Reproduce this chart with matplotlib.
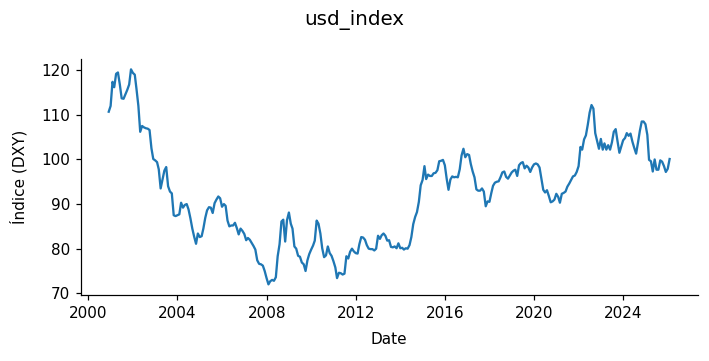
# usd index, monthly closes, line chart
import matplotlib
matplotlib.use("Agg")
import matplotlib.pyplot as plt
import pandas as pd

# month-end values (Nov 2000 .. Jan 2026)
values = [
    110.7, 112.0, 117.4, 116.2, 119.2, 119.5, 116.8, 113.7, 113.6, 114.6, 115.6, 116.8,
    120.2, 119.4, 119.0, 115.8, 112.0, 106.2, 107.5, 107.2, 107.0, 106.9, 106.6, 102.5,
    100.1, 99.8, 99.4, 97.8, 93.5, 95.5, 97.5, 98.3, 94.0, 92.8, 92.4, 87.5,
    87.3, 87.5, 87.7, 90.3, 89.2, 89.8, 90.0, 88.8, 86.8, 84.5, 82.7, 81.1,
    83.4, 82.6, 82.8, 84.5, 86.9, 88.6, 89.3, 89.2, 88.0, 90.2, 91.0, 91.7,
    91.3, 89.4, 90.0, 89.6, 86.3, 85.0, 85.2, 85.2, 85.8, 84.6, 83.2,
    84.5, 84.0, 83.3, 81.9, 82.4, 82.0, 81.3, 80.6, 79.8, 77.4, 76.6, 76.5,
    76.2, 75.0, 73.4, 72.0, 72.7, 73.0, 72.8, 73.6, 78.3, 81.0, 86.1, 86.5,
    81.6, 86.4, 88.1, 85.6, 84.5, 80.5, 80.0, 78.4, 78.2, 76.9, 76.5, 75.0,
    77.4, 78.8, 79.8, 80.7, 81.8, 86.3, 85.6, 83.4, 80.1, 78.1, 78.5, 80.5,
    79.0, 78.4, 77.2, 75.8, 73.4, 74.6, 74.5, 74.2, 74.4, 78.3, 77.8, 79.3,
    80.0, 79.4, 79.0, 78.9, 81.0, 82.6, 82.5, 82.0, 80.8, 80.0, 79.9, 79.9,
    79.6, 80.0, 82.9, 82.2, 83.0, 83.4, 82.9, 81.8, 81.9, 80.4, 80.3, 80.5,
    80.1, 81.2, 80.1, 80.2, 79.8, 80.1, 80.0, 80.8, 82.6, 85.5, 87.1, 88.2,
    90.5, 94.2, 95.4, 98.5, 95.6, 96.6, 96.3, 96.3, 96.9, 97.0, 97.6, 99.6,
    99.7, 99.9, 98.7, 95.6, 93.2, 95.5, 96.2, 96.0, 96.1, 96.0, 97.8, 100.9,
    102.4, 100.5, 101.2, 101.0, 99.0, 97.3, 96.0, 93.3, 93.0, 93.0, 93.5, 92.8,
    89.5, 90.6, 90.5, 92.5, 94.1, 94.8, 95.0, 95.1, 96.0, 97.1, 97.3,
    96.1, 95.7, 96.4, 97.1, 97.5, 97.7, 96.3, 98.7, 99.2, 99.4, 98.0, 98.6,
    98.2, 97.2, 98.2, 98.9, 99.1, 98.9, 98.2, 95.8, 93.2, 92.6, 93.1, 91.8,
    90.4, 90.6, 91.0, 92.3, 91.6, 90.3, 92.3, 92.5, 92.8, 93.9, 94.6, 95.4,
    96.2, 96.4, 97.2, 98.5, 102.8, 102.2, 104.5, 105.4, 107.8, 110.5, 112.2, 111.4,
    105.9, 104.1, 102.4, 104.6, 102.2, 103.6, 102.2, 103.2, 102.2, 103.8, 106.2, 106.8,
    104.1, 101.5, 102.9, 104.3, 104.8, 105.9, 105.3, 105.8, 104.0, 102.6, 101.3, 103.8,
    106.4, 108.5, 108.5, 107.9, 105.5, 99.9, 99.6, 97.3, 100.0, 97.7, 97.7, 99.8,
    99.5, 98.5, 97.2, 97.9, 100.1,
]
dates = pd.date_range("2000-11-30", periods=len(values), freq="ME")

fig = plt.figure(figsize=(709 / 110, 361 / 110), dpi=110)
ax = fig.add_axes([0.1138, 0.1825, 0.8702, 0.6552])
ax.plot(dates, values, color="#1f77b4", lw=1.5)

ax.set_xlabel("Date", fontsize=10, labelpad=7)
ax.set_ylabel("Índice (DXY)", fontsize=10, labelpad=9)
ax.tick_params(labelsize=10)
ax.spines["top"].set_visible(False)
ax.spines["right"].set_visible(False)
fig.suptitle("usd_index", fontsize=13, y=0.972)

fig.savefig("out.png", dpi=110)
